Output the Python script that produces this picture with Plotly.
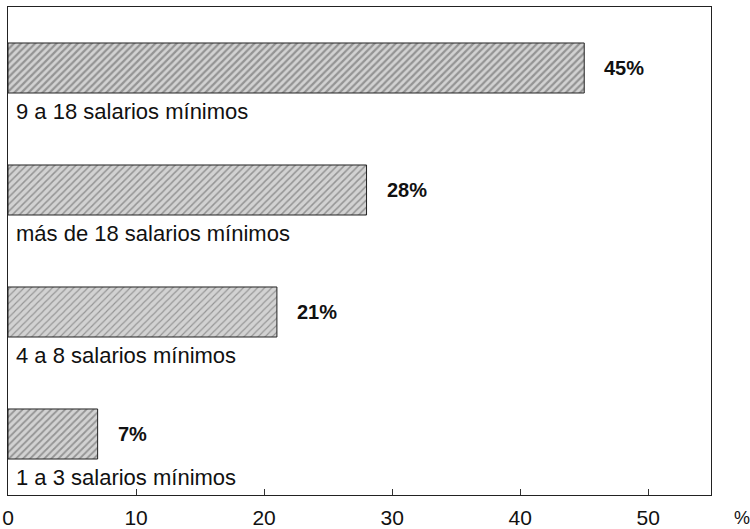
import plotly.graph_objects as go

categorias = ["1 a 3 salarios mínimos", "4 a 8 salarios mínimos",
              "más de 18 salarios mínimos", "9 a 18 salarios mínimos"]
porcentajes = [7, 21, 28, 45]
etiquetas = ["7%", "21%", "28%", "45%"]
ticks_eje = [0, 10, 20, 30, 40, 50]

FONT = "Liberation Sans, Arial, sans-serif"
pos = list(range(len(categorias)))

fig = go.Figure()
fig.add_trace(go.Bar(
    x=porcentajes, y=pos, orientation="h", width=0.41,
    marker=dict(
        color="#cfcfcf",
        line=dict(color="#222", width=1),
        pattern=dict(shape="/", fgcolor="#555555", bgcolor="#d2d2d2",
                     size=5, solidity=[0.35, 0.22, 0.3, 0.45]),
    ),
    hoverinfo="skip", showlegend=False,
))

for p, v, cat, lab in zip(pos, porcentajes, categorias, etiquetas):
    fig.add_annotation(x=v, y=p, text=f"<b>{lab}</b>", showarrow=False,
                       xanchor="left", xshift=18, font=dict(size=20, color="#111"))
    fig.add_annotation(x=0, y=p - 0.355, text=cat, showarrow=False,
                       xanchor="left", xshift=6, font=dict(size=22, color="#111"))

# el "%" va a la derecha de la escala, fuera del marco
fig.add_annotation(x=(742 - 8) / 703, y=-(518 - 495) / 488, xref="paper", yref="paper",
                   text="%", showarrow=False, xanchor="center", yanchor="middle",
                   font=dict(size=18, color="#111"))

fig.update_layout(
    width=750, height=529,
    margin=dict(l=8, r=39, t=7, b=34, autoexpand=False),
    paper_bgcolor="white", plot_bgcolor="white",
    font=dict(family=FONT, size=21, color="#111"),
    xaxis=dict(range=[0, 54.9], tickvals=ticks_eje, ticks="inside",
               ticklen=6, tickcolor="#333", ticklabelstandoff=4, automargin=False,
               showgrid=False, zeroline=False, showline=True, linecolor="#222",
               linewidth=1, mirror=True, fixedrange=True,
               tickfont=dict(size=21, color="#111")),
    yaxis=dict(range=[-0.5, 3.5], showticklabels=False, ticks="", automargin=False,
               showgrid=False, zeroline=False, showline=True, linecolor="#222",
               linewidth=1, mirror=True, fixedrange=True),
)

fig.write_html("out.html", config={"displayModeBar": False},
               post_script="document.body.style.margin='0px';")
